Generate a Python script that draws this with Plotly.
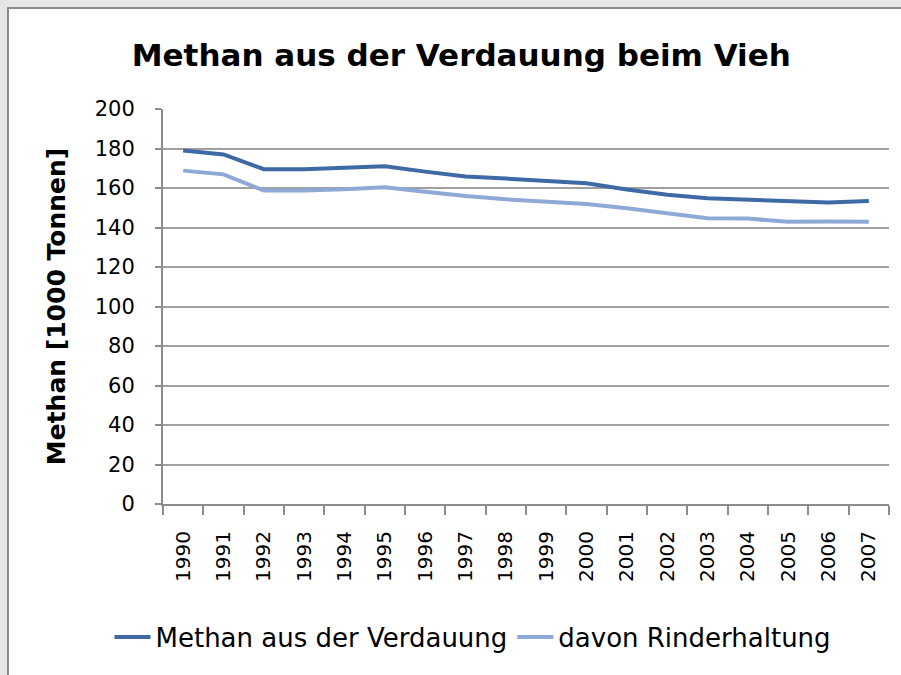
import plotly.graph_objects as go

years = [str(y) for y in range(1990, 2008)]
methan_verdauung = [179, 177, 169.5, 169.5, 170.3, 171, 168.3, 165.8, 164.8, 163.5,
                    162.4, 159.2, 156.6, 154.8, 154.2, 153.4, 152.6, 153.4]
rinderhaltung = [168.8, 166.9, 158.7, 158.7, 159.4, 160.4, 158.1, 155.9, 154.3, 153.1,
                 151.9, 149.7, 147.2, 144.7, 144.5, 142.9, 143.0, 142.9]

FONT = "DejaVu Sans, Verdana, sans-serif"

fig = go.Figure()

fig.add_trace(
    go.Scatter(
        x=years,
        y=methan_verdauung,
        mode="lines",
        name="Methan aus der Verdauung",
        line=dict(color="#3d6aa5", width=4)
    )
)

fig.add_trace(
    go.Scatter(
        x=years,
        y=rinderhaltung,
        mode="lines",
        name="davon Rinderhaltung",
        line=dict(color="#8ea9d6", width=4)
    )
)

# white chart area with grey frame (Excel look)
fig.add_shape(
    type="rect", xref="paper", yref="paper",
    x0=-0.2135, x1=1.03, y0=-0.46, y1=1.2557,
    fillcolor="white", line=dict(color="#8c8c8c", width=2),
    layer="below"
)

fig.update_layout(
    width=901,
    height=675,
    margin=dict(l=163, r=12, t=109, b=171),
    paper_bgcolor="#e6e6e6",
    plot_bgcolor="white",
    font=dict(family=FONT, color="#000000"),
    title=dict(
        text="<b>Methan aus der Verdauung beim Vieh</b>",
        x=0.512, xanchor="center",
        y=0.918, yanchor="middle",
        font=dict(size=31, family=FONT)
    ),
    showlegend=True,
    legend=dict(
        orientation="h",
        x=0.427, xanchor="center",
        y=-0.337, yanchor="middle",
        font=dict(size=26),
        itemwidth=36,
        bgcolor="rgba(0,0,0,0)"
    ),
    xaxis=dict(
        type="category",
        range=[-0.5, 17.5],
        tickangle=-90,
        tickfont=dict(size=20),
        ticklabelstandoff=17,
        showgrid=False,
        showline=True,
        linecolor="#8c8c8c",
        linewidth=2,
        ticks="outside",
        tickson="boundaries",
        ticklen=9,
        tickcolor="#8c8c8c",
        tickwidth=2
    ),
    yaxis=dict(
        range=[0, 200],
        dtick=20,
        tickfont=dict(size=21),
        ticklabelstandoff=16,
        showgrid=True,
        gridcolor="#a0a0a0",
        gridwidth=1.5,
        showline=True,
        linecolor="#8c8c8c",
        linewidth=2,
        ticks="outside",
        ticklen=6,
        tickcolor="#8c8c8c",
        tickwidth=2,
        zeroline=False,
        title=dict(
            text="<b>Methan [1000 Tonnen]</b>",
            font=dict(size=25),
            standoff=22
        )
    )
)

fig.write_html(
    "out.html",
    config={"displayModeBar": False},
    post_script="document.body.style.margin='0px';"
)
